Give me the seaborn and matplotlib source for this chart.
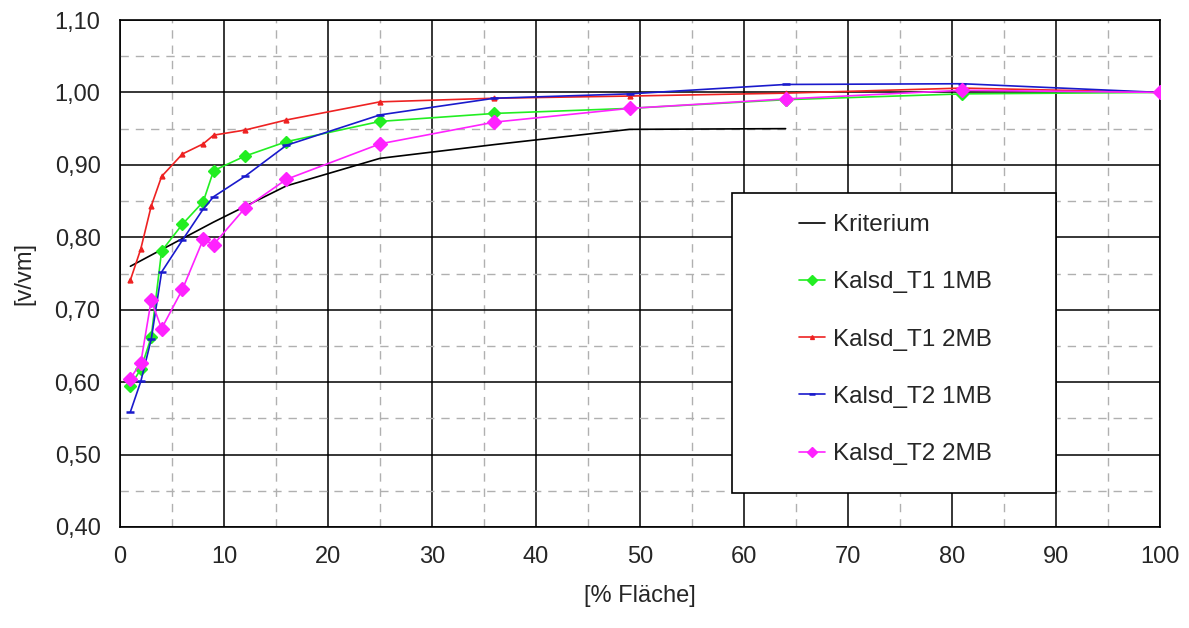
import matplotlib
matplotlib.use("Agg")
import matplotlib.pyplot as plt
import seaborn as sns
from matplotlib.ticker import MultipleLocator, FuncFormatter
from matplotlib.patches import Rectangle

# ---- data ----
x_krit = [1, 4, 9, 16, 25, 36, 49, 64]
y_krit = [0.76, 0.783, 0.821, 0.871, 0.909, 0.928, 0.949, 0.950]

x_pts = [1, 2, 3, 4, 6, 8, 9, 12, 16, 25, 36, 49, 64, 81, 100]
y_t1_1mb = [0.595, 0.618, 0.662, 0.781, 0.818, 0.849, 0.892, 0.912, 0.932, 0.960, 0.971, 0.978, 0.990, 0.998, 1.000]
y_t1_2mb = [0.741, 0.784, 0.843, 0.884, 0.915, 0.929, 0.941, 0.948, 0.962, 0.987, 0.992, 0.995, 0.999, 1.006, 1.000]
y_t2_1mb = [0.559, 0.601, 0.659, 0.752, 0.796, 0.839, 0.856, 0.884, 0.927, 0.969, 0.992, 0.998, 1.011, 1.012, 1.000]
y_t2_2mb = [0.605, 0.627, 0.713, 0.674, 0.728, 0.797, 0.790, 0.840, 0.880, 0.929, 0.959, 0.978, 0.991, 1.003, 1.000]

labels = ["Kriterium", "Kalsd_T1 1MB", "Kalsd_T1 2MB", "Kalsd_T2 1MB", "Kalsd_T2 2MB"]
x_ticks = [0, 10, 20, 30, 40, 50, 60, 70, 80, 90, 100]
y_ticks = [0.40, 0.50, 0.60, 0.70, 0.80, 0.90, 1.00, 1.10]

sns.set_style("white")
plt.rcParams["font.family"] = ["Liberation Sans", "DejaVu Sans"]

fig = plt.figure(figsize=(11.89, 6.28), dpi=100)
ax = fig.add_axes([120 / 1189, 1 - 527 / 628, 1040 / 1189, 507 / 628])

series = [
    (x_krit, y_krit, labels[0], "black", None, 0, 1.2),
    (x_pts, y_t1_1mb, labels[1], "#22ee22", "D", 6.5, 1.2),
    (x_pts, y_t1_2mb, labels[2], "#ee2222", "^", 3.5, 1.2),
    (x_pts, y_t2_1mb, labels[3], "#1a1acc", "_", 6, 1.2),
    (x_pts, y_t2_2mb, labels[4], "#ff22ff", "D", 7, 1.2),
]
for xs, ys, lab, col, mk, ms, lw in series:
    kw = dict(ax=ax, x=xs, y=ys, label=lab, color=col, linewidth=lw, zorder=3)
    if mk is not None:
        kw.update(marker=mk, markersize=ms, markeredgecolor=col, markeredgewidth=1.8 if mk == "_" else 1)
    sns.lineplot(**kw)

ax.set_xlim(0, 100)
ax.set_ylim(0.40, 1.10)
ax.set_xticks(x_ticks)
ax.set_yticks(y_ticks)
ax.xaxis.set_minor_locator(MultipleLocator(5))
ax.yaxis.set_minor_locator(MultipleLocator(0.05))
ax.yaxis.set_major_formatter(FuncFormatter(lambda v, p: f"{v:.2f}".replace(".", ",")))
ax.grid(which="major", color="black", linewidth=1.1, linestyle="-", zorder=1)
ax.grid(which="minor", color="#b0b0b0", linewidth=1.0, linestyle=(0, (6, 5)), zorder=1)
ax.set_axisbelow(True)
ax.tick_params(axis="both", which="major", direction="out", length=8, width=1, color="black",
               labelsize=17, pad=6)
ax.tick_params(axis="both", which="minor", length=0)
for s in ax.spines.values():
    s.set_color("black")
    s.set_linewidth(1.2)

ax.set_xlabel("[% Fläche]", fontsize=17, labelpad=12)
ax.set_ylabel("[v/vm]", fontsize=17, labelpad=14)

# legend box
rect = Rectangle((0.5885, 0.067), 0.3115, 0.592, transform=ax.transAxes,
                 facecolor="white", edgecolor="black", linewidth=1.2, zorder=5)
ax.add_patch(rect)
leg = ax.legend(loc="upper left", bbox_to_anchor=(0.653, 0.617), frameon=False,
                fontsize=17.5, handlelength=1.05, handletextpad=0.35, labelspacing=1.45,
                borderpad=0, borderaxespad=0, markerscale=0.8)
leg.set_zorder(6)

fig.savefig("out.png", dpi=100)
